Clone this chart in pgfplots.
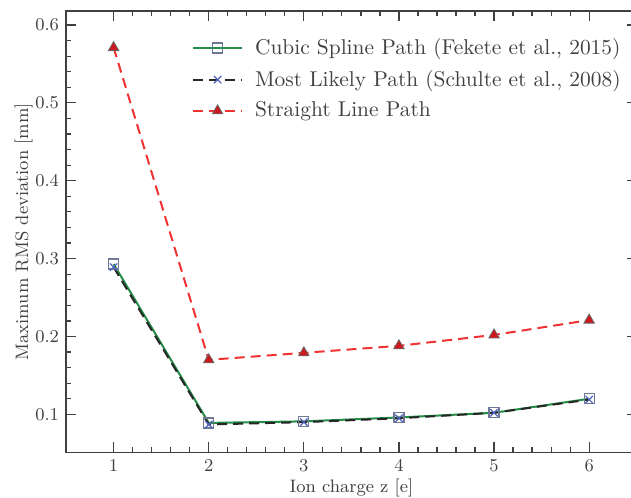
\documentclass[border=0pt]{standalone}
\usepackage{pgfplots}
\pgfplotsset{compat=1.18}
\usetikzlibrary{calc}

\definecolor{txt}{RGB}{64,64,64}
\definecolor{splinegreen}{RGB}{35,140,70}
\definecolor{mlpblue}{RGB}{80,100,190}
\definecolor{slred}{RGB}{240,50,50}
\definecolor{markred}{RGB}{205,25,30}
\definecolor{sqedge}{RGB}{110,120,150}

\begin{document}
\begin{tikzpicture}
\begin{axis}[
  scale only axis,
  width=285pt, height=220.5pt,
  xmin=0.5, xmax=6.5,
  ymin=0.051, ymax=0.618,
  xtick={1,2,3,4,5,6},
  ytick={0.1,0.2,0.3,0.4,0.5,0.6},
  minor x tick num=4,
  minor y tick num=4,
  tick align=inside,
  major tick length=5pt,
  minor tick length=2.5pt,
  axis line style={txt, line width=0.8pt},
  every tick/.style={txt, line width=0.6pt},
  tick label style={txt, font=\small},
  yticklabel style={/pgf/number format/.cd, fixed, precision=1},
  xlabel={Ion charge z [e]},
  ylabel={Maximum RMS deviation [mm]},
  label style={txt, font=\small},
  xlabel style={yshift=3pt},
  ylabel style={yshift=-5.5pt},
  legend style={draw=none, fill=none, at={(0.99,0.957)}, anchor=north east,
    font=\fontsize{10.7}{12.7}\selectfont, text=txt, row sep=2.3pt, column sep=4pt},
  legend cell align=left,
  legend image code/.code={%
    \draw[mark repeat=2, mark phase=2]
      plot coordinates {(0cm,0cm) (0.43cm,0cm) (0.86cm,0cm)};},
]
\addplot[splinegreen, line width=1pt, mark=square, mark size=2.5pt,
  mark options={draw=sqedge, solid, line width=0.6pt}]
  coordinates {(1,0.293) (2,0.089) (3,0.091) (4,0.096) (5,0.102) (6,0.120)};
\addlegendentry{Cubic Spline Path (Fekete et al., 2015)}

\addplot[black!85, line width=1pt, dash pattern=on 5pt off 3pt, mark=x, mark size=2.6pt,
  mark options={draw=mlpblue, solid, line width=0.6pt}]
  coordinates {(1,0.289) (2,0.087) (3,0.090) (4,0.095) (5,0.102) (6,0.119)};
\addlegendentry{Most Likely Path (Schulte et al., 2008)}

\addplot[slred, line width=1pt, dash pattern=on 5pt off 3pt, mark=triangle*, mark size=3pt,
  mark options={fill=markred, draw=black!60, solid, line width=0.4pt}]
  coordinates {(1,0.571) (2,0.170) (3,0.179) (4,0.188) (5,0.202) (6,0.221)};
\addlegendentry{Straight Line Path}

\coordinate (cropR) at (axis cs:6.44,0.3);
\end{axis}
% page frame: fixed margins round the axis, right edge just short of the right spine
\pgfresetboundingbox
\path[use as bounding box]
  ($(current axis.south west)+(-33pt,-22.5pt)$) rectangle
  ($(cropR |- current axis.north)+(0,5.5pt)$);
\end{tikzpicture}
\end{document}
